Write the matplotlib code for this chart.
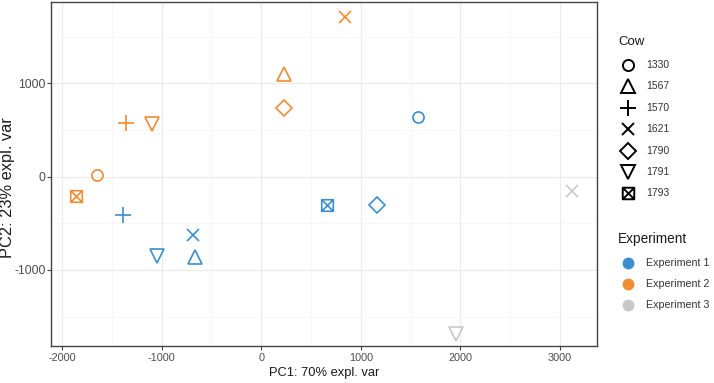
import matplotlib.pyplot as plt
import numpy as np
from matplotlib.path import Path
from matplotlib.ticker import MultipleLocator

plt.rcParams['font.family'] = ['Liberation Sans', 'DejaVu Sans']
plt.rcParams['axes.unicode_minus'] = False

# PCA scores
cow = ['1330', '1793', '1570', '1791', '1567', '1790', '1621',
       '1330', '1790', '1793', '1570', '1621', '1567', '1791',
       '1621', '1791']
experiment = ['Experiment 2'] * 7 + ['Experiment 1'] * 7 + ['Experiment 3'] * 2
pc1 = [-1652, -1859, -1357, -1096, 232, 232, 840,
       1571, 1163, 664, -1389, -686, -662, -1049,
       3122, 1950]
pc2 = [19, -209, 576, 560, 1099, 737, 1706,
       641, -302, -309, -416, -627, -860, -850,
       -150, -1690]

cows = ['1330', '1567', '1570', '1621', '1790', '1791', '1793']
experiments = ['Experiment 1', 'Experiment 2', 'Experiment 3']
colors = {'Experiment 1': '#3b8ed0', 'Experiment 2': '#f08c32', 'Experiment 3': '#c8c8c8'}

# square with a cross inside (ggplot shape 7)
boxx = Path([(-1, -1), (1, -1), (1, 1), (-1, 1), (-1, -1), (-1, -1), (1, 1), (-1, 1), (1, -1)],
            [Path.MOVETO, Path.LINETO, Path.LINETO, Path.LINETO, Path.CLOSEPOLY,
             Path.MOVETO, Path.LINETO, Path.MOVETO, Path.LINETO])
shapes = {'1330': ('o', 8), '1567': ('^', 10), '1570': ('+', 11), '1621': ('x', 8.5),
          '1790': ('D', 8), '1791': ('v', 9.8), '1793': (boxx, 8.3)}
mew = 1.2

fig = plt.figure(figsize=(7.14, 3.83), dpi=100)
ax = fig.add_axes([51 / 714, 1 - 346 / 383, (597 - 51) / 714, (346 - 2) / 383])

for x, y, c, e in zip(pc1, pc2, cow, experiment):
    m, s = shapes[c]
    ax.plot(x, y, linestyle='none', marker=m, markersize=s, markerfacecolor='none',
            markeredgecolor=colors[e], markeredgewidth=mew, zorder=3)

ax.set_xlim(-2110, 3370)
ax.set_ylim(-1815, 1870)
ax.xaxis.set_major_locator(MultipleLocator(1000))
ax.yaxis.set_major_locator(MultipleLocator(1000))
ax.xaxis.set_minor_locator(MultipleLocator(500))
ax.yaxis.set_minor_locator(MultipleLocator(500))
ax.grid(which='major', color='#ebebeb', linewidth=0.8)
ax.grid(which='minor', color='#f4f4f4', linewidth=0.5)
ax.set_axisbelow(True)
ax.tick_params(which='minor', length=0)
ax.tick_params(which='major', length=3, width=0.8, color='#444444', labelcolor='#4d4d4d', pad=2)
ax.tick_params(axis='x', labelsize=7.8)
ax.tick_params(axis='y', labelsize=8.7, pad=1)
for sp in ax.spines.values():
    sp.set_color('#444444')
    sp.set_linewidth(1.0)
ax.set_xlabel('PC1: 70% expl. var', fontsize=9.3, color='#1a1a1a', labelpad=3)
ax.set_ylabel('PC2: 23% expl. var', fontsize=11.8, color='#1a1a1a')
ax.yaxis.set_label_coords(-36 / 546, 0.46)

# legends drawn in pixel space on an overlay
lg = fig.add_axes([0, 0, 1, 1])
lg.set_xlim(0, 714)
lg.set_ylim(383, 0)
lg.axis('off')

lg.text(618, 42, 'Cow', fontsize=9.5, color='#1a1a1a', va='center', ha='left')
for i, c in enumerate(cows):
    yy = 65 + i * 21.4
    lg.plot(628, yy, linestyle='none', marker=shapes[c][0], markersize=shapes[c][1],
            markerfacecolor='none', markeredgecolor='black', markeredgewidth=1.4)
    lg.text(646, yy, c, fontsize=7.5, color='#333333', va='center', ha='left')

lg.text(618, 238.5, 'Experiment', fontsize=9.8, color='#1a1a1a', va='center', ha='left')
for i, e in enumerate(experiments):
    yy = 262.5 + i * 21.3
    lg.plot(628, yy, linestyle='none', marker='o', markersize=7.5,
            markerfacecolor=colors[e], markeredgecolor=colors[e])
    lg.text(646, yy, e, fontsize=7.7, color='#333333', va='center', ha='left')

fig.savefig('out.png', dpi=100)
